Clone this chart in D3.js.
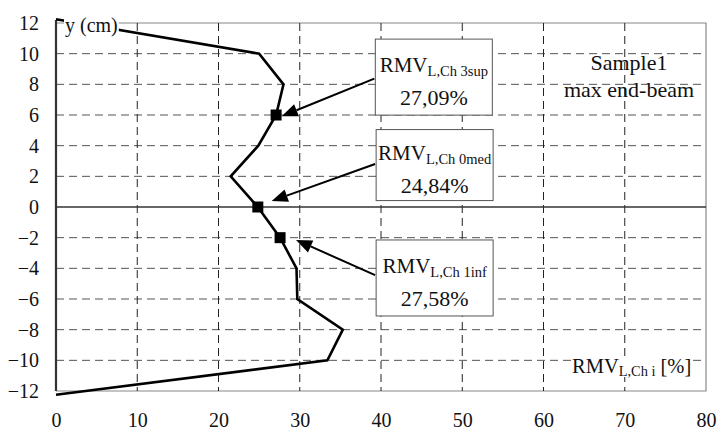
<!DOCTYPE html>
<html>
<head>
<meta charset="utf-8">
<script src="https://cdn.jsdelivr.net/npm/d3@7"></script>
</head>
<body style="margin:0;background:#fff">
<svg id="chart" width="717" height="434"></svg>
<script>
// Profile of RMV along the section height
const profileY = [12.25, 10, 8, 6, 4, 2, 0, -2, -4, -6, -8, -10, -12.25];
const profileX = [0, 25, 28, 27.09, 24.9, 21.5, 24.84, 27.58, 29.6, 29.7, 35.3, 33.4, 0];

// Highlighted measuring points and their callouts
const markerNames = ["3sup", "0med", "1inf"];
const markerY = [6, 0, -2];
const markerX = [27.09, 24.84, 27.58];
const markerText = ["27,09%", "24,84%", "27,58%"];
const calloutX = [39.3, 39.4, 39.4];
const calloutY = [10.95, 5.05, -2.15];
const calloutH = [76, 71, 76];
const arrowStartY = [8.37, 2.8, -4.44];
const arrowTipX = [27.78, 26.55, 29.54];
const arrowTipY = [5.92, 0.39, -2.15];

const xTicks = [0, 10, 20, 30, 40, 50, 60, 70, 80];
const yTicks = [12, 10, 8, 6, 4, 2, 0, -2, -4, -6, -8, -10, -12];

const SERIF = "Liberation Serif";
const svg = d3.select("#chart");
const margin = { left: 56, right: 11, top: 23, bottom: 43 };
const W = 717, H = 434;

const x = d3.scaleLinear().domain([0, 80]).range([margin.left, W - margin.right]);
const y = d3.scaleLinear().domain([-12, 12]).range([H - margin.bottom, margin.top]);

// Plot frame (top, right, bottom)
svg.append("path")
  .attr("d", `M${x(0)},${y(12)} H${x(80)} V${y(-12)} H${x(0)}`)
  .attr("fill", "none").attr("stroke", "#888").attr("stroke-width", 1.2);

// Horizontal dashed grid
svg.append("g").selectAll("line")
  .data(yTicks.filter(v => v !== 0 && Math.abs(v) !== 12))
  .join("line")
  .attr("x1", x(0)).attr("x2", x(80))
  .attr("y1", d => y(d)).attr("y2", d => y(d))
  .attr("stroke", "#555").attr("stroke-width", 1)
  .attr("stroke-dasharray", "8,5");

// Vertical dashed grid
svg.append("g").selectAll("line")
  .data(xTicks.filter(v => v !== 0 && v !== 80))
  .join("line")
  .attr("x1", d => x(d)).attr("x2", d => x(d))
  .attr("y1", y(12)).attr("y2", y(-12))
  .attr("stroke", "#222").attr("stroke-width", 1)
  .attr("stroke-dasharray", "8,5");

// Zero line
svg.append("line")
  .attr("x1", x(0)).attr("x2", x(80))
  .attr("y1", y(0)).attr("y2", y(0))
  .attr("stroke", "#333").attr("stroke-width", 1.5);

// Left axis line
svg.append("line")
  .attr("x1", x(0)).attr("x2", x(0))
  .attr("y1", y(12) - 3).attr("y2", y(-12))
  .attr("stroke", "#333").attr("stroke-width", 2.2);
svg.append("line")
  .attr("x1", x(0)).attr("x2", x(0) + 4)
  .attr("y1", y(12) - 3).attr("y2", y(12) - 3)
  .attr("stroke", "#333").attr("stroke-width", 1.5);

// Tick labels via axes
const yAxis = svg.append("g")
  .attr("transform", `translate(${x(0) - 17},0)`)
  .call(d3.axisLeft(y).tickValues(yTicks).tickSize(0).tickPadding(0));
yAxis.attr("font-family", SERIF).attr("font-size", 20);
yAxis.select(".domain").remove();
yAxis.selectAll("text").attr("fill", "#111").attr("dy", "0.33em");

const xAxis = svg.append("g")
  .attr("transform", `translate(0,${y(-12) + 22})`)
  .call(d3.axisBottom(x).tickValues(xTicks).tickSize(0).tickPadding(0));
xAxis.attr("font-family", SERIF).attr("font-size", 20);
xAxis.select(".domain").remove();
xAxis.selectAll("text").attr("fill", "#111");

// Profile line
const line = d3.line().x((d, i) => x(profileX[i])).y(d => y(d));
svg.append("path")
  .datum(profileY)
  .attr("d", line)
  .attr("fill", "none").attr("stroke", "#000").attr("stroke-width", 2.6)
  .attr("stroke-linejoin", "miter");

// Text with a white backing rectangle
function labelWithBg(g, px, py, parts, size, anchor) {
  const t = g.append("text").attr("x", px).attr("y", py)
    .attr("font-family", SERIF).attr("font-size", size)
    .attr("text-anchor", anchor || "start").attr("fill", "#111");
  parts.forEach(p => {
    const s = t.append("tspan").text(p.t);
    if (p.sub) s.attr("font-size", size * 0.7).attr("dy", 3);
    if (p.up) s.attr("dy", -3);
  });
  const bb = t.node().getBBox();
  g.insert("rect", "text")
    .attr("x", bb.x - 1).attr("y", bb.y + 2)
    .attr("width", bb.width + 2).attr("height", bb.height - 4)
    .attr("fill", "#fff");
  return t;
}

labelWithBg(svg.append("g"), 65, 32, [{ t: "y (cm)" }], 20);
labelWithBg(svg.append("g"), 572, 373, [{ t: "RMV" }, { t: "L,Ch i", sub: true }, { t: " [%]", up: true }], 20.5);

// Sample caption
svg.append("text").attr("x", 629).attr("y", 70).attr("text-anchor", "middle")
  .attr("font-family", SERIF).attr("font-size", 22).attr("fill", "#111").text("Sample1");
svg.append("text").attr("x", 629).attr("y", 97).attr("text-anchor", "middle")
  .attr("font-family", SERIF).attr("font-size", 22).attr("fill", "#111").text("max end-beam");

// Arrows (line + filled head) from the callout to the marker
markerNames.forEach((name, i) => {
  const x1 = x(calloutX[i]) - 1, y1 = y(arrowStartY[i]);
  const x2 = x(arrowTipX[i]), y2 = y(arrowTipY[i]);
  const ang = Math.atan2(y2 - y1, x2 - x1);
  const L = 16, Wd = 6.5;
  const bxp = x2 - L * Math.cos(ang), byp = y2 - L * Math.sin(ang);
  svg.append("line")
    .attr("x1", x1).attr("y1", y1).attr("x2", bxp).attr("y2", byp)
    .attr("stroke", "#000").attr("stroke-width", 2);
  const px = -Math.sin(ang), py = Math.cos(ang);
  svg.append("path")
    .attr("d", `M${x2},${y2} L${bxp + Wd * px},${byp + Wd * py} L${bxp - Wd * px},${byp - Wd * py} Z`)
    .attr("fill", "#000");
});

// Callout boxes
const boxW = 117;
markerNames.forEach((name, i) => {
  const bx = x(calloutX[i]), by = y(calloutY[i]), h = calloutH[i];
  const g = svg.append("g");
  g.append("rect").attr("x", bx).attr("y", by).attr("width", boxW).attr("height", h)
    .attr("fill", "#fff").attr("stroke", "#555").attr("stroke-width", 1);
  const t = g.append("text").attr("x", bx + boxW / 2).attr("y", by + h / 2 - 5)
    .attr("text-anchor", "middle").attr("font-family", SERIF).attr("font-size", 21).attr("fill", "#111");
  t.append("tspan").text("RMV");
  t.append("tspan").text("L,Ch " + name).attr("font-size", 14.5).attr("dy", 4);
  g.append("text").attr("x", bx + boxW / 2).attr("y", by + h / 2 + 28)
    .attr("text-anchor", "middle").attr("font-family", SERIF).attr("font-size", 22).attr("fill", "#111")
    .text(markerText[i]);
});

// Square markers
svg.append("g").selectAll("rect")
  .data(markerY)
  .join("rect")
  .attr("x", (d, i) => x(markerX[i]) - 5.5)
  .attr("y", d => y(d) - 5.5)
  .attr("width", 11).attr("height", 11)
  .attr("fill", "#000");
</script>
</body>
</html>
